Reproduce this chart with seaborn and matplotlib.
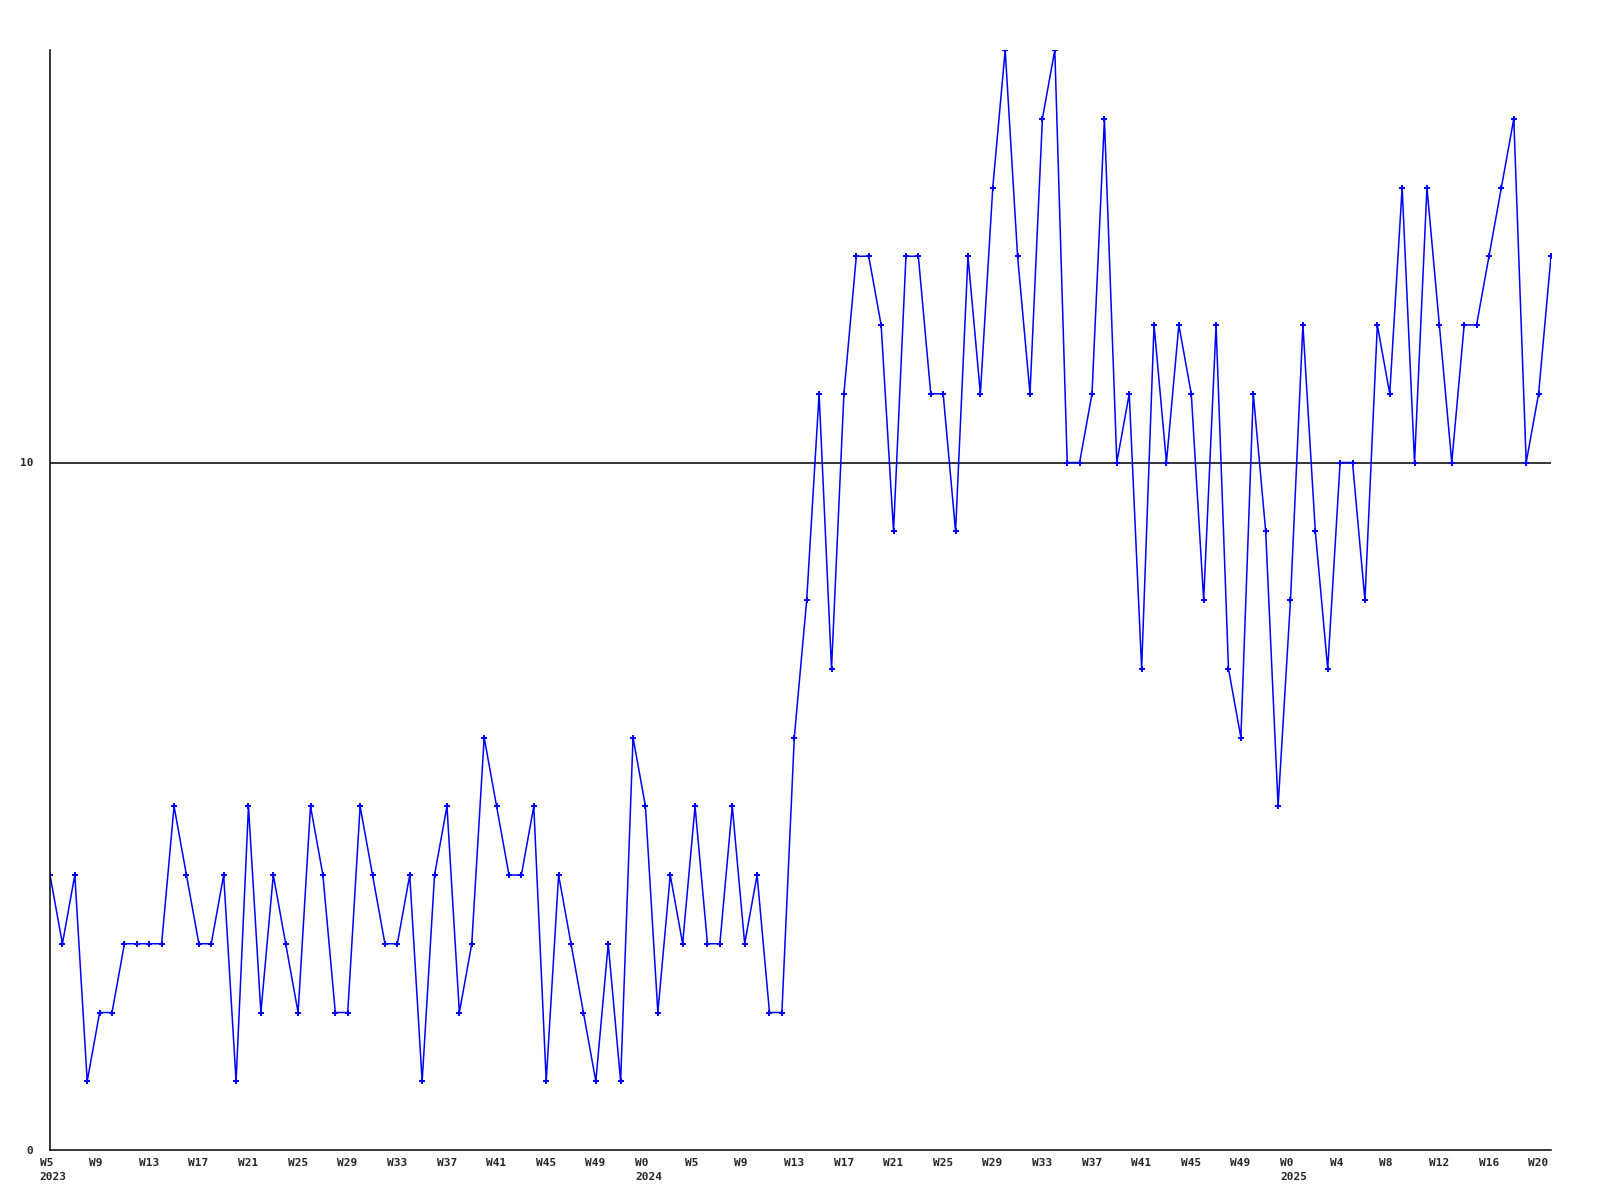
import matplotlib
matplotlib.use("Agg")
import matplotlib.pyplot as plt
import seaborn as sns
import pandas as pd

values = [4, 3, 4, 1, 2, 2, 3, 3, 3, 3, 5, 4, 3, 3, 4, 1, 5, 2, 4, 3,
          2, 5, 4, 2, 2, 5, 4, 3, 3, 4, 1, 4, 5, 2, 3, 6, 5, 4, 4, 5,
          1, 4, 3, 2, 1, 3, 1, 6, 5, 2, 4, 3, 5, 3, 3, 5, 3, 4, 2, 2,
          6, 8, 11, 7, 11, 13, 13, 12, 9, 13, 13, 11, 11, 9, 13, 11, 14, 16, 13, 11,
          15, 16, 10, 10, 11, 15, 10, 11, 7, 12, 10, 12, 11, 8, 12, 7, 6, 11, 9, 5,
          8, 12, 9, 7, 10, 10, 8, 12, 11, 14, 10, 14, 12, 10, 12, 12, 13, 14, 15, 10,
          11, 13]

tick_positions = list(range(0, 121, 4))
tick_labels = ["W5\n2023", "W9", "W13", "W17", "W21", "W25", "W29", "W33", "W37", "W41", "W45", "W49",
               "W0\n2024", "W5", "W9", "W13", "W17", "W21", "W25", "W29", "W33", "W37", "W41", "W45", "W49",
               "W0\n2025", "W4", "W8", "W12", "W16", "W20"]

df = pd.DataFrame({"idx": range(len(values)), "value": values})

sns.set_style("white")
plt.rcParams['font.family'] = ['DejaVu Sans Mono', 'DejaVu Sans']

fig = plt.figure(figsize=(16, 12), dpi=100)
ax = fig.add_axes([50 / 1600, 50 / 1200, 1501 / 1600, 1100 / 1200])

sns.lineplot(data=df, x="idx", y="value", ax=ax, color="#0000ff", linewidth=1.1,
             marker="P", markersize=5, markeredgewidth=0, markerfacecolor="#0000ff")

ax.axhline(10, color="black", linewidth=1.1, zorder=0)

ax.set_xlim(0, len(values) - 1)
ax.set_ylim(0, 16)

ax.set_xticks(tick_positions)
ax.set_xticklabels([])
for pos, lab in zip(tick_positions, tick_labels):
    ax.annotate(lab, xy=(pos, 0), xycoords=("data", "axes fraction"),
                xytext=(-7.5, -5.5), textcoords="offset points",
                ha="left", va="top", fontsize=8, fontweight="bold",
                linespacing=1.55, annotation_clip=False)

ax.set_yticks([0, 10])
ax.set_yticklabels(["0", "10"], fontsize=8, fontweight="bold")
ax.tick_params(axis="both", length=0)
ax.tick_params(axis="y", pad=12)

ax.set_xlabel("")
ax.set_ylabel("")
for side in ["top", "right"]:
    ax.spines[side].set_visible(False)
for side in ["left", "bottom"]:
    ax.spines[side].set_color("black")
    ax.spines[side].set_linewidth(1.1)

fig.savefig("out.png", dpi=100, facecolor="white")
